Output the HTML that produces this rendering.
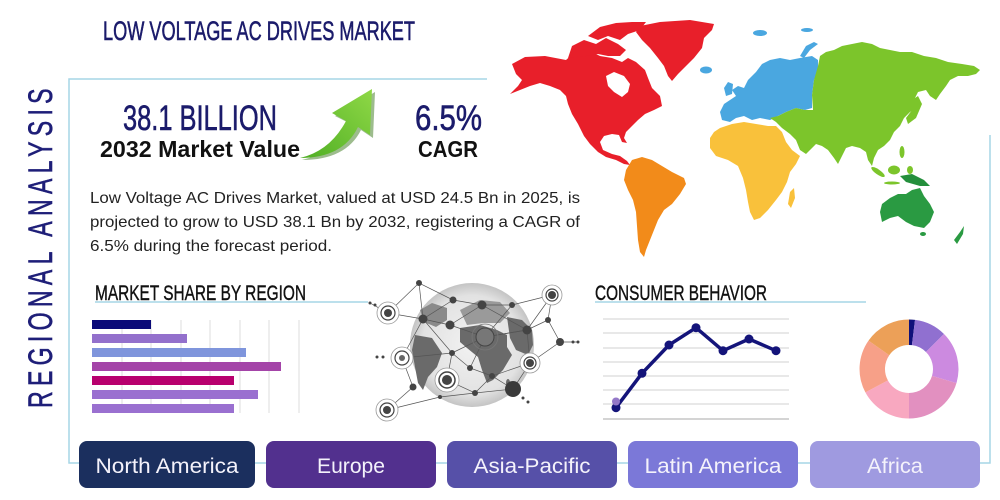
<!DOCTYPE html>
<html><head><meta charset="utf-8"><style>
html,body{margin:0;padding:0;background:#fff;width:1000px;height:500px;overflow:hidden}
svg{display:block}
</style></head><body>
<svg width="1000" height="500" viewBox="0 0 1000 500" xmlns="http://www.w3.org/2000/svg">
<defs>
<linearGradient id="ag" x1="0" y1="1" x2="1" y2="0">
<stop offset="0" stop-color="#4fae24"/><stop offset="1" stop-color="#8fd846"/></linearGradient>
<radialGradient id="gg" cx="0.5" cy="0.5" r="0.5">
<stop offset="0" stop-color="#f2f2f2"/><stop offset="0.8" stop-color="#e2e2e2"/><stop offset="1" stop-color="#c4c4c4"/></radialGradient>
</defs>
<rect width="1000" height="500" fill="#fff"/>

<!-- frame -->
<path d="M487,79 L69,79 L69,463 L990,463 L990,135" fill="none" stroke="#a6d6e6" stroke-width="1.5"/>

<!-- title -->
<text x="103" y="40" font-family="Liberation Sans Narrow, Liberation Sans, sans-serif" font-size="27" fill="#1b1b6b" stroke="#1b1b6b" stroke-width="0.6" textLength="312" lengthAdjust="spacingAndGlyphs">LOW VOLTAGE AC DRIVES MARKET</text>

<!-- vertical title -->
<text transform="translate(52,408) rotate(-90) scale(0.68,1)" x="0" y="0" font-family="Liberation Sans, sans-serif" font-size="34" fill="#1e1e78" stroke="#1e1e78" stroke-width="0.6" textLength="470" lengthAdjust="spacing">REGIONAL ANALYSIS</text>

<!-- stats -->
<text x="123" y="130" font-family="Liberation Sans Narrow, Liberation Sans, sans-serif" font-size="35" fill="#1b1b6b" stroke="#1b1b6b" stroke-width="0.6" textLength="154" lengthAdjust="spacingAndGlyphs">38.1 BILLION</text>
<text x="100" y="157" font-family="Liberation Sans, sans-serif" font-weight="bold" font-size="23" fill="#111" textLength="200" lengthAdjust="spacingAndGlyphs">2032 Market Value</text>
<text x="415" y="130" font-family="Liberation Sans Narrow, Liberation Sans, sans-serif" font-size="35" fill="#1b1b6b" stroke="#1b1b6b" stroke-width="0.6" textLength="67" lengthAdjust="spacingAndGlyphs">6.5%</text>
<text x="418" y="157" font-family="Liberation Sans, sans-serif" font-weight="bold" font-size="23" fill="#111" textLength="60" lengthAdjust="spacingAndGlyphs">CAGR</text>

<!-- arrow -->
<path d="M302,160 Q332,153 349,123 L335,116 L375,92 L373,138 L361,130 Q346,160 302,160 Z" fill="#3c7a1c" opacity="0.5"/>
<path d="M300,158 Q330,151 346,121 L332,113 L372,89 L370,135 L358,127 Q343,158 300,158 Z" fill="url(#ag)"/>

<!-- paragraph -->
<g font-family="Liberation Sans, sans-serif" font-size="16" fill="#222">
<text x="90" y="203" textLength="490" lengthAdjust="spacingAndGlyphs">Low Voltage AC Drives Market, valued at USD 24.5 Bn in 2025, is</text>
<text x="90" y="227" textLength="490" lengthAdjust="spacingAndGlyphs">projected to grow to USD 38.1 Bn by 2032, registering a CAGR of</text>
<text x="90" y="251" textLength="242" lengthAdjust="spacingAndGlyphs">6.5% during the forecast period.</text>
</g>

<!-- world map -->
<g>
<path d="M512,64 L525,57 L545,56 L566,60 L575,52 L588,50 L600,56 L612,58 L622,62 L628,58 L636,62 L645,70 L648,78 L652,88 L660,96 L662,106 L654,110 L645,114 L638,120 L632,126 L626,132 L624,138 L627,143 L622,142 L619,135 L612,134 L604,136 L600,142 L603,150 L612,154 L620,156 L627,161 L630,165 L624,164 L616,160 L606,157 L598,152 L590,144 L584,136 L578,124 L572,114 L568,104 L566,96 L560,90 L550,86 L540,83 L530,86 L520,90 L510,94 L518,86 L522,80 L516,74 Z" fill="#e81f2a"/>
<path d="M568,58 L572,46 L584,40 L596,44 L606,38 L618,44 L626,50 L620,56 L608,56 L598,54 L586,56 Z" fill="#e81f2a"/>
<path d="M588,36 L600,27 L616,23 L632,22 L646,22 L640,30 L628,34 L620,40 L608,36 L598,40 Z" fill="#e81f2a"/>
<path d="M606,76 L614,72 L624,76 L630,84 L628,92 L622,97 L614,92 L608,86 Z" fill="#fff"/>
<path d="M640,26 L660,22 L690,20 L714,24 L712,30 L704,38 L702,48 L694,58 L686,66 L678,74 L672,81 L668,76 L664,66 L658,58 L650,48 L642,40 L636,32 Z" fill="#e81f2a"/>
<path d="M632,160 L642,157 L652,160 L662,166 L672,172 L684,178 L686,184 L680,194 L672,204 L664,210 L658,220 L654,230 L650,240 L646,250 L644,257 L640,252 L638,240 L637,226 L636,212 L633,200 L628,190 L624,180 L626,170 Z" fill="#f28b1a"/>
<path d="M722,120 L720,112 L724,104 L730,100 L736,96 L732,90 L738,86 L744,88 L748,80 L756,72 L762,64 L770,60 L780,58 L790,60 L800,58 L812,56 L818,60 L818,70 L814,80 L812,95 L812,108 L805,110 L796,108 L786,112 L778,116 L770,120 L760,118 L752,120 L744,116 L736,118 L730,122 Z" fill="#4aa7e0"/>
<path d="M724,88 L728,82 L733,84 L732,94 L726,96 Z" fill="#4aa7e0"/>
<path d="M800,56 L806,46 L814,42 L818,44 L810,50 L804,58 Z" fill="#4aa7e0"/>
<ellipse cx="706" cy="70" rx="6" ry="3.5" fill="#4aa7e0"/>
<ellipse cx="760" cy="33" rx="7" ry="3" fill="#4aa7e0"/>
<ellipse cx="807" cy="30" rx="6" ry="2" fill="#4aa7e0"/>
<path d="M720,128 L732,124 L744,122 L756,124 L768,126 L776,126 L782,132 L786,142 L792,150 L800,156 L796,164 L790,172 L787,182 L782,192 L776,200 L768,210 L760,218 L754,220 L750,212 L748,202 L746,190 L743,178 L738,166 L728,160 L716,156 L710,148 L710,138 L714,132 Z" fill="#f9c13b"/>
<path d="M790,192 L794,188 L795,198 L791,208 L788,204 Z" fill="#f9c13b"/>
<path d="M813,110 L812,95 L814,80 L818,66 L820,56 L826,52 L834,50 L842,46 L852,44 L862,42 L872,44 L880,48 L890,50 L900,52 L912,52 L924,56 L936,58 L948,62 L962,64 L974,66 L980,70 L976,74 L968,76 L958,76 L950,80 L946,86 L940,94 L936,100 L930,96 L926,90 L918,92 L914,100 L916,108 L910,112 L904,118 L900,126 L894,132 L890,140 L884,146 L878,150 L874,158 L872,166 L868,160 L866,152 L860,148 L852,146 L846,148 L842,156 L838,164 L834,158 L828,150 L822,146 L816,144 L810,150 L806,154 L800,150 L796,140 L790,134 L782,128 L776,122 L770,118 L778,116 L786,112 L796,108 L805,110 Z" fill="#7cc52b"/>
<path d="M912,100 L918,96 L922,104 L916,118 L908,124 L906,118 L912,110 Z" fill="#7cc52b"/>
<ellipse cx="878" cy="172" rx="8" ry="2.5" transform="rotate(35 878 172)" fill="#7cc52b"/>
<ellipse cx="894" cy="170" rx="6" ry="4.5" fill="#7cc52b"/>
<ellipse cx="910" cy="170" rx="3" ry="4" fill="#7cc52b"/>
<ellipse cx="902" cy="152" rx="2.5" ry="6" fill="#7cc52b"/>
<ellipse cx="892" cy="183" rx="8" ry="1.5" fill="#7cc52b"/>
<path d="M900,176 L912,174 L924,180 L930,186 L920,186 L906,182 Z" fill="#248f3c"/>
<path d="M882,204 L890,198 L898,194 L906,194 L912,190 L920,188 L924,196 L930,204 L934,212 L930,222 L924,228 L914,226 L906,222 L898,216 L890,218 L882,222 L880,212 Z" fill="#2a9a42"/>
<ellipse cx="923" cy="234" rx="3" ry="2" fill="#2a9a42"/>
<path d="M954,240 L960,232 L964,226 L963,234 L957,244 Z" fill="#2a9a42"/>
</g>

<!-- section headings -->
<text x="95" y="300" font-family="Liberation Sans Narrow, Liberation Sans, sans-serif" font-size="21" fill="#111" stroke="#111" stroke-width="0.4" textLength="211" lengthAdjust="spacingAndGlyphs">MARKET SHARE BY REGION</text>
<line x1="95" y1="302" x2="368" y2="302" stroke="#a6d6e6" stroke-width="1.5"/>
<text x="595" y="300" font-family="Liberation Sans Narrow, Liberation Sans, sans-serif" font-size="21" fill="#111" stroke="#111" stroke-width="0.4" textLength="172" lengthAdjust="spacingAndGlyphs">CONSUMER BEHAVIOR</text>
<line x1="595" y1="302" x2="866" y2="302" stroke="#a6d6e6" stroke-width="1.5"/>

<!-- bar chart -->
<g stroke="#dedede" stroke-width="1">
<line x1="122" y1="320" x2="122" y2="413"/><line x1="151" y1="320" x2="151" y2="413"/>
<line x1="181" y1="320" x2="181" y2="413"/><line x1="210" y1="320" x2="210" y2="413"/>
<line x1="240" y1="320" x2="240" y2="413"/><line x1="269" y1="320" x2="269" y2="413"/>
<line x1="299" y1="320" x2="299" y2="413"/>
</g>
<rect x="92" y="320" width="59" height="9" fill="#0a0a78"/>
<rect x="92" y="334" width="95" height="9" fill="#9370cc"/>
<rect x="92" y="348" width="154" height="9" fill="#7f95dc"/>
<rect x="92" y="362" width="189" height="9" fill="#a444a8"/>
<rect x="92" y="376" width="142" height="9" fill="#b8006e"/>
<rect x="92" y="390" width="166" height="9" fill="#9a70d0"/>
<rect x="92" y="404" width="142" height="9" fill="#9a70d0"/>

<!-- globe -->
<circle cx="472" cy="345" r="62" fill="url(#gg)"/>
<g fill="#6a6a6a">
<path d="M415,335 L432,338 L442,353 L437,367 L428,377 L423,390 L418,383 L415,367 L412,350 Z"/>
<path d="M460,328 L480,325 L497,330 L507,335 L507,347 L512,355 L503,370 L493,380 L487,383 L482,370 L478,357 L467,348 L460,342 Z"/>
<path d="M507,317 L522,320 L532,330 L533,345 L528,355 L516,350 L510,338 Z"/>
<path d="M420,310 L432,303 L447,308 L447,320 L436,327 L424,322 Z" fill="#8a8a8a"/>
<path d="M460,310 L480,300 L500,302 L510,313 L500,323 L483,323 L467,325 Z" fill="#9a9a9a"/>
<ellipse cx="508" cy="383" rx="2" ry="4"/>
</g>
<g stroke="#555" stroke-width="0.7" fill="none">
<polyline points="388,313 419,283 453,300 482,305 512,305 552,295 548,320 560,342"/>
<polyline points="388,313 423,319 450,325 485,337 527,330 548,320"/>
<polyline points="402,358 423,319 453,300"/>
<polyline points="402,358 452,353 485,337 512,305"/>
<polyline points="402,358 413,387 387,410 440,397 475,393 513,389"/>
<polyline points="447,380 452,353 470,368 492,376 513,389 530,363 560,342"/>
<polyline points="447,380 475,393 492,376 530,363 527,330 482,305 450,325"/>
<polyline points="419,283 423,319 452,353"/>
<polyline points="552,295 527,330 485,337 470,368"/>
<polyline points="370,303 388,313"/><polyline points="560,342 578,342"/>
</g>
<g>
<circle cx="388" cy="313" r="11" fill="#fff" stroke="#999" stroke-width="0.8"/><circle cx="388" cy="313" r="7" fill="#fff" stroke="#444" stroke-width="1.2"/><circle cx="388" cy="313" r="4" fill="#444"/>
<circle cx="402" cy="358" r="11" fill="#fff" stroke="#999" stroke-width="0.8"/><circle cx="402" cy="358" r="7" fill="#fff" stroke="#444" stroke-width="1.2"/><circle cx="402" cy="358" r="3" fill="#666"/>
<circle cx="387" cy="410" r="11" fill="#fff" stroke="#999" stroke-width="0.8"/><circle cx="387" cy="410" r="7" fill="#fff" stroke="#444" stroke-width="1.2"/><circle cx="387" cy="410" r="4" fill="#444"/>
<circle cx="552" cy="295" r="10" fill="#fff" stroke="#999" stroke-width="0.8"/><circle cx="552" cy="295" r="6" fill="#fff" stroke="#444" stroke-width="1.2"/><circle cx="552" cy="295" r="4" fill="#444"/>
<circle cx="485" cy="337" r="13" fill="none" stroke="#777" stroke-width="0.8"/><circle cx="485" cy="337" r="9" fill="#777" stroke="#444" stroke-width="1"/>
<circle cx="447" cy="380" r="12" fill="#fff" stroke="#999" stroke-width="0.8"/><circle cx="447" cy="380" r="8" fill="#fff" stroke="#444" stroke-width="1.5"/><circle cx="447" cy="380" r="5" fill="#444"/>
<circle cx="530" cy="363" r="10" fill="#fff" stroke="#999" stroke-width="0.8"/><circle cx="530" cy="363" r="6" fill="#fff" stroke="#444" stroke-width="1.2"/><circle cx="530" cy="363" r="4" fill="#444"/>
<circle cx="513" cy="389" r="8" fill="#3a3a3a"/>
</g>
<g fill="#444">
<circle cx="419" cy="283" r="3"/><circle cx="423" cy="319" r="4.5"/><circle cx="450" cy="325" r="4.5"/>
<circle cx="453" cy="300" r="3.5"/><circle cx="482" cy="305" r="4.5"/><circle cx="512" cy="305" r="3"/>
<circle cx="548" cy="320" r="3"/><circle cx="527" cy="330" r="4.5"/><circle cx="560" cy="342" r="4"/>
<circle cx="452" cy="353" r="3"/><circle cx="470" cy="368" r="3"/><circle cx="413" cy="387" r="3.5"/>
<circle cx="492" cy="376" r="3"/><circle cx="475" cy="393" r="3"/><circle cx="440" cy="397" r="2"/>
<circle cx="370" cy="303" r="1.5"/><circle cx="375" cy="305" r="1.5"/>
<circle cx="377" cy="357" r="1.5"/><circle cx="383" cy="357" r="1.5"/>
<circle cx="573" cy="342" r="1.5"/><circle cx="578" cy="342" r="1.5"/>
<circle cx="523" cy="398" r="1.5"/><circle cx="528" cy="402" r="1.5"/>
</g>

<!-- line chart -->
<g stroke="#d0d0d0" stroke-width="1">
<line x1="603" y1="319" x2="789" y2="319"/><line x1="603" y1="333" x2="789" y2="333"/>
<line x1="603" y1="348" x2="789" y2="348"/><line x1="603" y1="362" x2="789" y2="362"/>
<line x1="603" y1="376" x2="789" y2="376"/><line x1="603" y1="390" x2="789" y2="390"/>
<line x1="603" y1="404" x2="789" y2="404"/><line x1="603" y1="419" x2="789" y2="419" stroke="#aaa"/>
</g>
<polyline points="616,407.7 642,373.3 669,345 696,327.7 723,350.7 749,339 776,350.7" fill="none" stroke="#14147a" stroke-width="3.5" stroke-linejoin="round"/>
<g fill="#14147a">
<circle cx="616" cy="407.7" r="4.5"/><circle cx="642" cy="373.3" r="4.5"/><circle cx="669" cy="345" r="4.5"/>
<circle cx="696" cy="327.7" r="4.5"/><circle cx="723" cy="350.7" r="4.5"/><circle cx="749" cy="339" r="4.5"/>
<circle cx="776" cy="350.7" r="4.5"/>
</g>
<circle cx="616" cy="401.5" r="4" fill="#9478c8"/>

<!-- donut -->
<g transform="translate(909,369)">
<path d="M0,-49.5 A49.5,49.5 0 0 1 6.03,-49.13 L2.92,-23.82 A24,24 0 0 0 0,-24 Z" fill="#10107a"/>
<path d="M6.03,-49.13 A49.5,49.5 0 0 1 35.0,-35.0 L16.97,-16.97 A24,24 0 0 0 2.92,-23.82 Z" fill="#9070d0"/>
<path d="M35.0,-35.0 A49.5,49.5 0 0 1 47.45,14.10 L23.0,6.84 A24,24 0 0 0 16.97,-16.97 Z" fill="#cc8ae0"/>
<path d="M47.45,14.10 A49.5,49.5 0 0 1 0,49.5 L0,24 A24,24 0 0 0 23.0,6.84 Z" fill="#e290c0"/>
<path d="M0,49.5 A49.5,49.5 0 0 1 -43.6,23.4 L-21.1,11.4 A24,24 0 0 0 0,24 Z" fill="#f8a8c0"/>
<path d="M-43.6,23.4 A49.5,49.5 0 0 1 -40.5,-28.4 L-19.7,-13.8 A24,24 0 0 0 -21.1,11.4 Z" fill="#f7a088"/>
<path d="M-40.5,-28.4 A49.5,49.5 0 0 1 0,-49.5 L0,-24 A24,24 0 0 0 -19.7,-13.8 Z" fill="#eca058"/>
</g>

<!-- buttons -->
<rect x="79" y="441" width="176" height="47" rx="8" fill="#1b2f5e"/>
<rect x="266" y="441" width="170" height="47" rx="8" fill="#52308e"/>
<rect x="447" y="441" width="170" height="47" rx="8" fill="#5650a8"/>
<rect x="628" y="441" width="170" height="47" rx="8" fill="#7b78d8"/>
<rect x="810" y="441" width="170" height="47" rx="8" fill="#9f9ae0"/>
<g font-family="Liberation Sans, sans-serif" font-size="21" fill="#f4f2fb" text-anchor="middle">
<text x="167" y="473" textLength="143" lengthAdjust="spacingAndGlyphs">North America</text>
<text x="351" y="473" textLength="68" lengthAdjust="spacingAndGlyphs">Europe</text>
<text x="532" y="473" textLength="117" lengthAdjust="spacingAndGlyphs">Asia-Pacific</text>
<text x="713" y="473" textLength="137" lengthAdjust="spacingAndGlyphs">Latin America</text>
<text x="895" y="473" textLength="56" lengthAdjust="spacingAndGlyphs">Africa</text>
</g>
</svg>
</body></html>
